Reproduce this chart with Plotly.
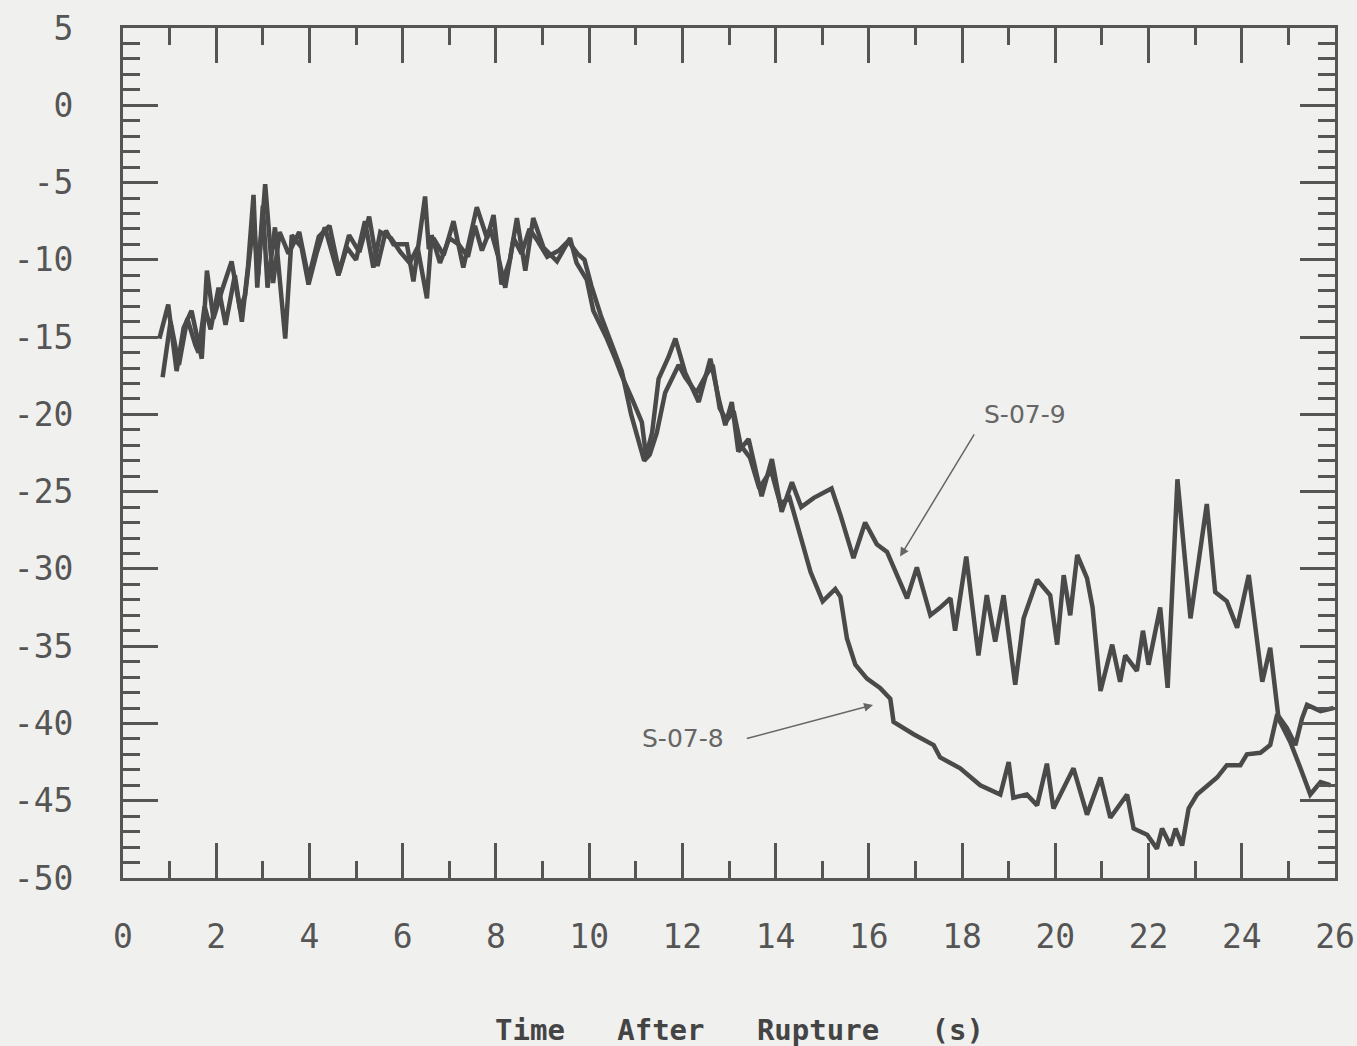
import plotly.graph_objects as go

# ---- data ----
t_s079 = [0.78, 0.97, 1.15, 1.30, 1.47, 1.69, 1.80, 1.94, 2.12, 2.33, 2.51, 2.62, 2.80, 2.90,
          3.05, 3.12, 3.22, 3.36, 3.55, 3.78, 3.98, 4.20, 4.43, 4.64, 4.85, 5.07, 5.28, 5.46,
          5.64, 5.80, 6.09, 6.23, 6.48, 6.56, 6.66, 6.88, 7.09, 7.30, 7.59, 7.81, 7.95, 8.12,
          8.30, 8.45, 8.63, 8.80, 9.02, 9.31, 9.59, 9.73, 9.95, 10.09, 10.38, 10.56, 10.70,
          10.92, 11.13, 11.22, 11.35, 11.49, 11.70, 11.85, 12.06, 12.35, 12.60, 12.78, 12.92,
          13.06, 13.20, 13.42, 13.70, 13.92, 14.13, 14.35, 14.55, 14.82, 15.05, 15.20, 15.39,
          15.67, 15.92, 16.17, 16.39, 16.53, 16.82, 17.03, 17.32, 17.53, 17.75, 17.85, 18.09,
          18.35, 18.53, 18.71, 18.89, 19.14, 19.32, 19.61, 19.89, 20.04, 20.18, 20.32, 20.47,
          20.68, 20.80, 20.97, 21.22, 21.39, 21.50, 21.75, 21.88, 22.00, 22.25, 22.41, 22.62,
          22.90, 23.25, 23.43, 23.68, 23.90, 24.15, 24.44, 24.61, 24.79, 25.04, 25.26, 25.47,
          25.69, 25.90]
v_s079 = [-15.1, -12.9, -17.2, -14.4, -13.3, -16.4, -10.7, -13.8, -12.0, -10.1, -13.2, -12.3, -7.5, -11.0,
          -5.1, -8.0, -11.5, -8.2, -9.6, -8.2, -11.2, -8.5, -7.8, -10.8, -8.4, -9.5, -7.2, -10.4,
          -8.1, -9.0, -9.0, -11.4, -5.9, -9.3, -8.6, -9.7, -7.5, -10.5, -6.6, -8.6, -7.1, -11.6,
          -10.0, -7.3, -10.7, -7.3, -9.2, -10.1, -8.6, -10.2, -11.3, -13.3, -15.1, -16.4, -17.5,
          -19.0, -20.5, -22.7, -21.2, -17.7, -16.3, -15.1, -17.3, -19.2, -16.4, -19.0, -20.7,
          -19.2, -22.4, -21.6, -25.3, -22.9, -26.3, -24.4, -26.0, -25.4, -25.0, -24.8, -26.5,
          -29.3, -27.0, -28.4, -28.9, -29.9, -31.9, -29.9, -33.0, -32.5, -31.9, -34.0, -29.2,
          -35.6, -31.7, -34.7, -31.7, -37.5, -33.2, -30.7, -31.7, -34.9, -30.4, -33.0, -29.1,
          -30.6, -32.5, -37.9, -34.9, -37.3, -35.6, -36.6, -34.0, -36.2, -32.5, -37.7, -24.2,
          -33.2, -25.8, -31.5, -32.1, -33.8, -30.4, -37.3, -35.1, -39.7, -41.2, -42.9, -44.6,
          -43.8, -44.0]

t_s078 = [0.85, 1.02, 1.20, 1.38, 1.55, 1.62, 1.75, 1.88, 2.05, 2.20, 2.40, 2.55, 2.68, 2.80,
          2.88, 3.00, 3.10, 3.26, 3.48, 3.62, 3.83, 3.98, 4.15, 4.33, 4.62, 4.80, 5.00, 5.19,
          5.37, 5.52, 5.75, 5.95, 6.15, 6.32, 6.52, 6.62, 6.80, 7.00, 7.20, 7.40, 7.55, 7.70,
          7.88, 8.05, 8.20, 8.38, 8.55, 8.72, 8.90, 9.10, 9.35, 9.55, 9.75, 9.90, 10.05, 10.25,
          10.50, 10.70, 10.90, 11.05, 11.18, 11.30, 11.45, 11.63, 11.92, 12.06, 12.30, 12.50,
          12.65, 12.80, 12.95, 13.10, 13.25, 13.45, 13.65, 13.90, 14.10, 14.30, 14.50, 14.63,
          14.75, 15.01, 15.28, 15.39, 15.53, 15.71, 15.96, 16.24, 16.46, 16.53, 16.96, 17.39,
          17.53, 17.96, 18.39, 18.82, 19.00, 19.10, 19.39, 19.61, 19.82, 19.96, 20.39, 20.68,
          20.97, 21.18, 21.54, 21.68, 21.97, 22.18, 22.29, 22.47, 22.58, 22.72, 22.86, 23.04,
          23.29, 23.47, 23.68, 23.97, 24.11, 24.40, 24.61, 24.76, 24.97, 25.15, 25.29, 25.40,
          25.69, 25.97]
v_s078 = [-17.6, -14.0, -16.8, -13.8, -15.5, -16.0, -13.0, -14.5, -11.8, -14.2, -11.0, -14.0, -10.5, -5.8,
          -11.8, -6.5, -11.8, -7.9, -15.1, -8.4, -9.2, -11.6, -9.6, -7.9, -11.0, -9.2, -10.0, -7.5,
          -10.5, -8.2, -8.6, -9.5, -10.2, -9.2, -12.5, -8.4, -10.2, -8.6, -9.0, -9.8, -7.8, -9.4,
          -8.0, -9.8, -11.8, -8.6, -9.6, -8.0, -8.8, -9.8, -9.4, -8.8, -9.6, -10.0, -11.7, -13.6,
          -15.6, -17.2, -20.0, -21.5, -23.0, -22.6, -21.2, -18.6, -16.8, -17.6, -18.6, -17.5,
          -16.8, -19.6, -20.4, -19.8, -22.0, -22.8, -24.8, -23.6, -25.8, -25.4, -27.6, -28.9,
          -30.2, -32.1, -31.3, -31.8, -34.5, -36.2, -37.1, -37.7, -38.4, -39.9, -40.7, -41.4,
          -42.2, -42.9, -44.0, -44.6, -42.5, -44.8, -44.6, -45.3, -42.6, -45.5, -42.9, -45.9,
          -43.5, -46.1, -44.6, -46.8, -47.2, -48.1, -46.8, -47.9, -46.8, -47.9, -45.5, -44.6,
          -44.0, -43.5, -42.7, -42.7, -42.0, -41.9, -41.4, -39.4, -40.3, -41.4, -39.7, -38.8,
          -39.2, -39.0]

y_tickvals = [5, 0, -5, -10, -15, -20, -25, -30, -35, -40, -45, -50]
y_ticktext = ["5", "0", "-5", "-10", "-15", "-20", "-25", "-30", "-35", "-40", "-45", "-50"]
x_tickvals = [0, 2, 4, 6, 8, 10, 12, 14, 16, 18, 20, 22, 24, 26]
x_ticktext = [str(v) for v in x_tickvals]

x_title = "Time   After   Rupture   (s)"
labels = ["S-07-9", "S-07-8"]

INK = "#4a4a4a"
AX = "#555555"
BG = "#f0f0ee"

fig = go.Figure()
fig.add_trace(go.Scatter(x=t_s079, y=v_s079, mode="lines", name=labels[0],
                         line=dict(color=INK, width=4.5)))
fig.add_trace(go.Scatter(x=t_s078, y=v_s078, mode="lines", name=labels[1],
                         line=dict(color=INK, width=4.5)))

tickfont = dict(family="DejaVu Sans Mono", size=33, color=AX)

fig.update_xaxes(range=[0, 26], tickvals=x_tickvals, ticktext=x_ticktext,
                 ticks="inside", ticklen=35, tickwidth=3, tickcolor=AX,
                 minor=dict(dtick=1, tick0=0, ticks="inside", ticklen=17, tickwidth=3, tickcolor=AX),
                 showline=True, linewidth=3, linecolor=AX, mirror="allticks",
                 showgrid=False, zeroline=False, tickfont=tickfont,
                 ticklabelstandoff=27, automargin=False)
fig.update_yaxes(range=[-50, 5], tickvals=y_tickvals, ticktext=y_ticktext,
                 ticks="inside", ticklen=35, tickwidth=3, tickcolor=AX,
                 minor=dict(dtick=1, tick0=0, ticks="inside", ticklen=17, tickwidth=3, tickcolor=AX),
                 showline=True, linewidth=3, linecolor=AX, mirror="allticks",
                 showgrid=False, zeroline=False, tickfont=tickfont,
                 ticklabelstandoff=40, automargin=False)

lab_font = dict(family="DejaVu Sans", size=25, color="#666666")
fig.add_annotation(x=19.36, y=-20.0, xref="x", yref="y", text=labels[0],
                   showarrow=False, font=lab_font)
fig.add_annotation(x=12.02, y=-41.0, xref="x", yref="y", text=labels[1],
                   showarrow=False, font=lab_font)
# arrows
fig.add_annotation(x=16.67, y=-29.2, ax=18.28, ay=-21.2, xref="x", yref="y",
                   axref="x", ayref="y", text="", showarrow=True,
                   arrowhead=2, arrowsize=1.2, arrowwidth=1.5, arrowcolor="#666666")
fig.add_annotation(x=16.09, y=-38.8, ax=13.35, ay=-41.0, xref="x", yref="y",
                   axref="x", ayref="y", text="", showarrow=True,
                   arrowhead=2, arrowsize=1.2, arrowwidth=1.5, arrowcolor="#666666")

fig.add_annotation(x=0.509, y=-0.179, xref="paper", yref="paper", text="<b>" + x_title + "</b>",
                   showarrow=False, yanchor="middle",
                   font=dict(family="DejaVu Sans Mono", size=29, color="#444444"))

fig.update_layout(width=1357, height=1046, margin=dict(l=123, r=22, t=28, b=168),
                  paper_bgcolor=BG, plot_bgcolor=BG, showlegend=False)

fig.write_html("out.html")
